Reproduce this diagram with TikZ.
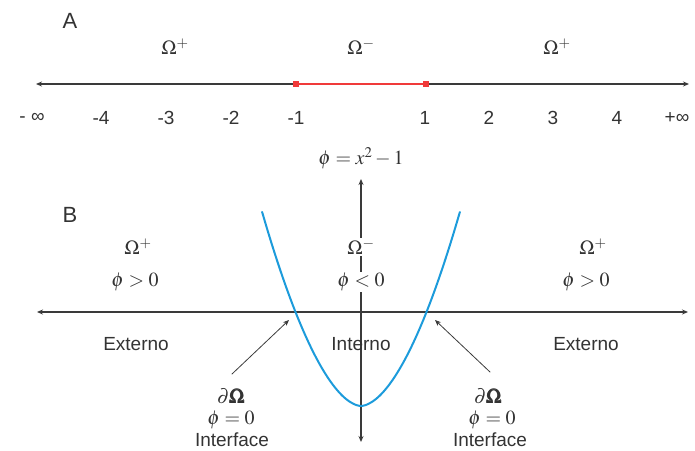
\documentclass[tikz,border=0pt]{standalone}
\usepackage{mathptmx}
\usepackage{amsmath}
\usepackage[no-math]{fontspec}
\setmainfont{Liberation Sans}
\usetikzlibrary{arrows.meta,positioning}
\definecolor{eixo}{HTML}{3A3A3A}
\definecolor{texto}{HTML}{333333}
\definecolor{vermelho}{HTML}{F03A3A}
\definecolor{azul}{HTML}{1C9BDB}
\tikzset{
  rotulo/.style={text=texto,font=\fontsize{19}{21}\selectfont,inner sep=1pt},
  regiao/.style={text=texto,font=\fontsize{20}{22}\selectfont,inner sep=1pt},
  letra/.style={text=texto,font=\fontsize{22}{24}\selectfont,inner sep=0pt},
  linha/.style={eixo,line width=1.3pt}
}
\begin{document}
\begin{tikzpicture}[x=1pt,y=-1pt,>={Stealth[length=6pt,width=5pt]},line cap=round]
        \useasboundingbox (0,0) rectangle (695,450);
        % painel A
        \node[letra] (A) at (70,21) {A};
        \coordinate (Aesq) at (36,84);
        \coordinate (Adir) at (689,84);
        \coordinate (Am1) at (296,84);
        \coordinate (Ap1) at (426,84);
        \draw[linha,<->] (Aesq) -- (Adir);
        \draw[vermelho,line width=1.4pt] (Am1) -- (Ap1);
        \foreach \p in {Am1,Ap1}{ \fill[vermelho] (\p) +(-3,-3) rectangle +(3,3); }
        \node[regiao] (omA1) at (175,47) {$\Omega^{+}$};
        \node[regiao] (omA2) at (361,47) {$\Omega^{-}$};
        \node[regiao] (omA3) at (557,47) {$\Omega^{+}$};
        \node[rotulo] (menosinf) at (32,118) {- ∞};
        \node[rotulo] (maisinf) at (677,118) {+∞};
        \foreach \v in {-4,-3,-2,-1}{
          \node[rotulo] (n\v) at ({361+65*\v},118) {\v};
        }
        \foreach \v in {1,2,3,4}{
          \node[rotulo] (n\v) at ({361+64*\v},118) {\v};
        }
        % painel B
        \node[letra] (B) at (70,215) {B};
        \coordinate (Besq) at (37,312);
        \coordinate (Bdir) at (688,312);
        \coordinate (Bbaixo) at (361,442);
        \coordinate (Btopo) at (361,179);
        \draw[linha,<->] (Besq) -- (Bdir);
        \draw[linha,<->] (Bbaixo) -- (Btopo);
        \node[regiao] (fun) at (361,158) {$\phi = x^{2} - 1$};
        \draw[azul,line width=2pt] plot[domain=-1.51:1.51,samples=60,smooth]
              ({361+65.5*\x},{312-94*(abs(\x)^1.76-1)});
        \node[regiao] (omB1) at (138,247) {$\Omega^{+}$};
        \node[regiao] (fiB1) at (135,282) {$\phi > 0$};
        \node[regiao,fill=white] (omB2) at (361,247) {$\Omega^{-}$};
        \node[regiao,fill=white] (fiB2) at (361,282) {$\phi < 0$};
        \node[regiao] (omB3) at (593,247) {$\Omega^{+}$};
        \node[regiao] (fiB3) at (586,282) {$\phi > 0$};
        \node[rotulo] (ext1) at (136,344) {Externo};
        \node[rotulo] (int) at (361,344) {Interno};
        \node[rotulo] (ext2) at (586,344) {Externo};
        % interfaces
        \node[regiao] (dE) at (231,396) {$\partial\pmb{\Omega}$};
        \node[regiao] (fE) at (231,420) {$\phi = 0$};
        \node[rotulo] (iE) at (232,440) {Interface};
        \node[regiao] (dD) at (488,396) {$\partial\pmb{\Omega}$};
        \node[regiao] (fD) at (492,420) {$\phi = 0$};
        \node[rotulo] (iD) at (490,440) {Interface};
        \coordinate (sE) at (232,374);
        \coordinate (pE) at (289,320);
        \coordinate (sD) at (490,372);
        \coordinate (pD) at (435,320);
        \draw[eixo,line width=0.8pt,->] (sE) -- (pE);
        \draw[eixo,line width=0.8pt,->] (sD) -- (pD);
      \end{tikzpicture}
\end{document}
